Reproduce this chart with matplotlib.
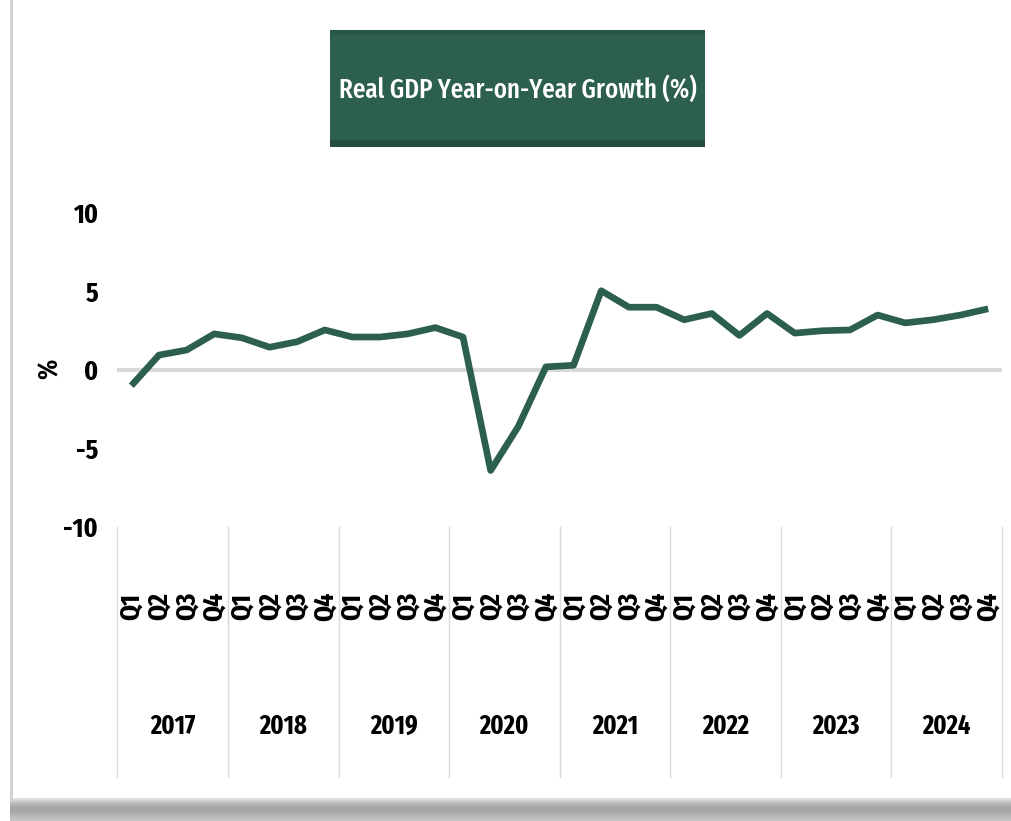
import matplotlib
matplotlib.use("Agg")
import matplotlib.pyplot as plt
import matplotlib.transforms as mtransforms
from matplotlib.patches import Rectangle
from matplotlib.lines import Line2D
import numpy as np

# Quarterly real GDP growth, year on year (%)
years = ["2017", "2018", "2019", "2020", "2021", "2022", "2023", "2024"]
quarters = ["Q1", "Q2", "Q3", "Q4"]
gdp_growth = [-1.0, 0.95, 1.27, 2.3,
              2.05, 1.45, 1.8, 2.55,
              2.1, 2.1, 2.3, 2.7,
              2.1, -6.4, -3.6, 0.2,
              0.3, 5.05, 4.0, 4.0,
              3.2, 3.6, 2.2, 3.6,
              2.35, 2.5, 2.55, 3.5,
              3.0, 3.2, 3.5, 3.9]
y_ticks = [-10, -5, 0, 5, 10]
title = "Real GDP Year-on-Year Growth (%)"

FONT = ["Fira Sans Extra Condensed", "DejaVu Sans"]
plt.rcParams["font.family"] = FONT

W, H = 1012, 821
fig = plt.figure(figsize=(W / 100, H / 100), dpi=100)


def fx(px):
    return px / W


def fy(py):
    return 1 - py / H


GREEN = "#2d5f4f"
GRID = "#d9d9d9"

# Plot area
ax = fig.add_axes([fx(117.5), fy(527), fx(1002) - fx(117.5), fy(213) - fy(527)])
x = np.arange(len(gdp_growth))
ax.axhline(0, color=GRID, lw=3, zorder=1)
ax.plot(x, gdp_growth, color=GREEN, lw=4.8, solid_joinstyle="round",
        solid_capstyle="butt", zorder=3)
ax.set_xlim(-0.5, len(gdp_growth) - 0.5)
ax.set_ylim(-10, 10)
for s in ax.spines.values():
    s.set_visible(False)

ax.set_yticks(y_ticks)
ax.set_yticklabels([str(v) for v in y_ticks], fontsize=20, fontweight="bold")
ax.tick_params(axis="y", length=0, pad=14)

ax.set_xticks(x)
ax.set_xticklabels(quarters * len(years), rotation=90, fontsize=20,
                   fontweight="bold")
ax.tick_params(axis="x", length=0, pad=57)
for lab in ax.get_xticklabels():
    lab.set_va("center")

# Year group separators and year labels
trans = mtransforms.blended_transform_factory(ax.transData, ax.transAxes)
for b in np.arange(-0.5, len(gdp_growth), 4):
    ax.plot([b, b], [0, -0.796], transform=trans, clip_on=False,
            color=GRID, lw=1)
for i, yr in enumerate(years):
    ax.text(4 * i + 1.5, -0.634, yr, transform=trans, ha="center",
            va="center", fontsize=19, fontweight="bold")

fig.text(fx(50), fy(369), "%", rotation=90, fontsize=20, fontweight="bold",
         ha="center", va="center")

# Title banner with slightly darker top and bottom edges
bx0, bx1, by0, by1 = 330, 705, 30, 147
fig.patches.append(Rectangle((fx(bx0), fy(by1)), fx(bx1) - fx(bx0),
                             fy(by0) - fy(by1), transform=fig.transFigure,
                             facecolor=GREEN, edgecolor="none"))
fig.patches.append(Rectangle((fx(bx0), fy(by0 + 5)), fx(bx1) - fx(bx0),
                             fy(by0) - fy(by0 + 5), transform=fig.transFigure,
                             facecolor="#27574a", edgecolor="none"))
fig.patches.append(Rectangle((fx(bx0), fy(by1)), fx(bx1) - fx(bx0),
                             fy(by1 - 7) - fy(by1), transform=fig.transFigure,
                             facecolor="#244c40", edgecolor="none"))
ttl = fig.text(fx((bx0 + bx1) / 2), fy(90), title, color="white",
               fontsize=24, ha="center", va="center", fontweight="medium")
# Fit the title to the banner width
fig.canvas.draw()
tw = ttl.get_window_extent().width
ttl.set_fontsize(24 * 358 / tw)

# Card frame: left edge and bottom shadow
fig.add_artist(Line2D([fx(10.5), fx(10.5)], [fy(0), fy(800)],
                      transform=fig.transFigure, color="#cfcfcf", lw=2))
shadow_ax = fig.add_axes([fx(10), 0, 1 - fx(10), fy(798)])
grad = np.array([[0.88], [0.74], [0.66], [0.65], [0.70], [0.76]])
shadow_ax.imshow(grad, cmap="gray", vmin=0, vmax=1, aspect="auto",
                 interpolation="bilinear")
shadow_ax.axis("off")

fig.savefig("out.png", dpi=100)
